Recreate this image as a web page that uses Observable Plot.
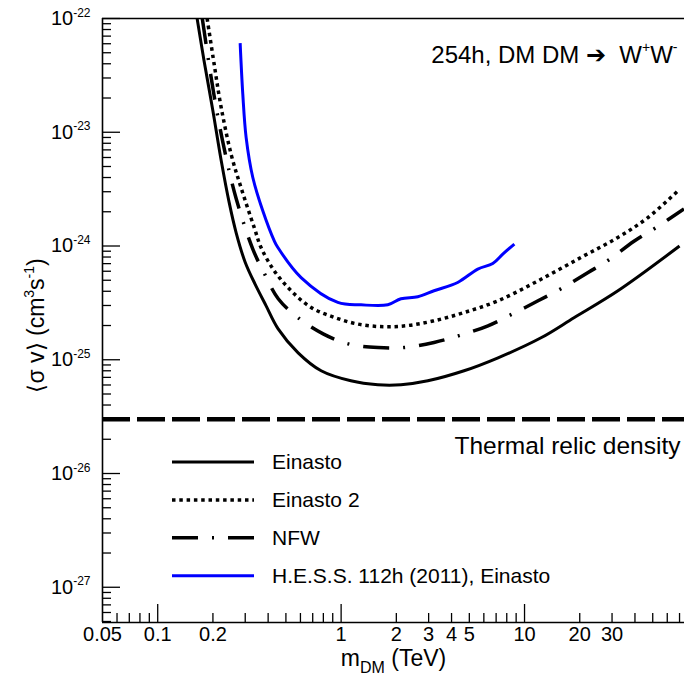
<!DOCTYPE html>
<html>
<head>
<meta charset="utf-8">
<script src="https://cdn.jsdelivr.net/npm/d3@7"></script>
<script src="https://cdn.jsdelivr.net/npm/@observablehq/plot@0.6"></script>
<style>
  html, body { margin: 0; padding: 0; background: #fff; }
  #chart { width: 684px; height: 677px; }
  svg { font-family: "Liberation Sans", Arial, Helvetica, sans-serif; }
</style>
</head>
<body>
<div id="chart"></div>
<script>
// ---- data (m_DM in TeV, <sigma v> in cm^3 s^-1) ----
const einastoX = [0.164, 0.179, 0.200, 0.222, 0.245, 0.268, 0.2998, 0.340, 0.390, 0.4535, 0.583, 0.778, 1.13, 1.585, 2.12, 2.97, 4.68, 7.17, 12.3, 18.6, 32.3, 70];
const einastoY = [1.0e-22, 4.24e-23, 1.54e-23, 5.61e-24, 2.43e-24, 1.30e-24, 7.2e-25, 4.6e-25, 2.98e-25, 1.87e-25, 1.15e-25, 8.0e-26, 6.53e-26, 6.03e-26, 6.03e-26, 6.53e-26, 8.0e-26, 1.04e-25, 1.56e-25, 2.34e-25, 4.04e-25, 1.0e-24];

const einasto2X = [0.186, 0.203, 0.222, 0.252, 0.285, 0.336, 0.366, 0.432, 0.534, 0.686, 0.916, 1.233, 1.715, 2.31, 3.21, 4.68, 7.17, 11.85, 20.3, 32.3, 47.1, 70];
const einasto2Y = [1.0e-22, 3.99e-23, 1.64e-23, 6.3e-24, 3.24e-24, 1.45e-24, 9.7e-25, 6.05e-25, 4.04e-25, 2.88e-25, 2.36e-25, 2.06e-25, 1.95e-25, 2.0e-25, 2.2e-25, 2.6e-25, 3.3e-25, 4.94e-25, 7.93e-25, 1.19e-24, 1.78e-24, 3.15e-24];

const nfwX = [0.175, 0.203, 0.2318, 0.2679, 0.330, 0.379, 0.454, 0.583, 0.798, 1.092, 1.59, 2.2, 3.21, 4.4, 6.32, 8.44, 11.85, 15.8, 22.2, 28.9, 39.5, 52.1, 74];
const nfwY = [1.0e-22, 2.09e-23, 6.87e-24, 2.6e-24, 9.4e-25, 5.85e-25, 3.44e-25, 2.34e-25, 1.69e-25, 1.38e-25, 1.28e-25, 1.28e-25, 1.42e-25, 1.63e-25, 1.99e-25, 2.49e-25, 3.3e-25, 4.21e-25, 5.85e-25, 7.57e-25, 1.1e-24, 1.45e-24, 2.12e-24];

const hessX = [0.2815, 0.291, 0.3035, 0.330, 0.374, 0.432, 0.452, 0.605, 0.959, 1.285, 1.797, 2.12, 2.62, 3.21, 4.32, 5.56, 6.71, 7.61, 8.8];
const hessY = [6.07e-23, 2.16e-23, 8.97e-24, 4.0e-24, 2.04e-24, 1.11e-24, 9.7e-25, 5.28e-25, 3.19e-25, 3.04e-25, 3.04e-25, 3.44e-25, 3.58e-25, 4.04e-25, 4.78e-25, 6.27e-25, 7.02e-25, 8.49e-25, 1.04e-24];

const thermalRelic = 3e-26;
const seriesNames = ["Einasto", "Einasto 2", "NFW", "H.E.S.S. 112h (2011), Einasto"];

// ---- axes ----
const xDomain = [0.05, 74.5];
const yDomain = [4.9e-28, 1e-22];
const xTickLabels = [0.05, 0.1, 0.2, 1, 2, 3, 4, 5, 10, 20, 30];
const xMajorTicks = [0.1, 1, 10];
const xMinorTicks = [0.06, 0.07, 0.08, 0.09, 0.2, 0.3, 0.4, 0.5, 0.6, 0.7, 0.8, 0.9, 2, 3, 4, 5, 6, 7, 8, 9, 20, 30, 40, 50, 60, 70];
const yMajorTicks = [1e-27, 1e-26, 1e-25, 1e-24, 1e-23, 1e-22];
const yMinorTicks = [-28, -27, -26, -25, -24, -23]
  .flatMap(e => [2, 3, 4, 5, 6, 7, 8, 9].map(m => +(m + "e" + e)))
  .filter(v => v >= yDomain[0] && v <= yDomain[1]);

// ---- styles ----
const styles = [
  {stroke: "#000", strokeWidth: 3, strokeDasharray: null},
  {stroke: "#000", strokeWidth: 3.5, strokeDasharray: "3.5,3.8"},
  {stroke: "#000", strokeWidth: 3.5, strokeDasharray: "26,14,2,14"},
  {stroke: "#0000ff", strokeWidth: 3, strokeDasharray: null}
];

const rows = (xs, ys) => xs.map((x, i) => ({x, y: ys[i]}));
const seriesData = [rows(einastoX, einastoY), rows(einasto2X, einasto2Y), rows(nfwX, nfwY), rows(hessX, hessY)];

const lineMarks = seriesData.map((d, i) => Plot.line(d, {
  x: "x", y: "y",
  stroke: styles[i].stroke,
  strokeWidth: styles[i].strokeWidth,
  strokeDasharray: styles[i].strokeDasharray,
  strokeLinecap: "butt",
  curve: "catmull-rom",
  clip: true
}));

const FONT = 20;
const TITLE_FONT = 24;
const THERMAL_FONT = 24.5;
const XLABEL_FONT = 23;
const YLABEL_FONT = 23;

const chart = Plot.plot({
  width: 684,
  height: 677,
  marginLeft: 102,
  marginRight: 0,
  marginTop: 18,
  marginBottom: 55,
  style: {fontSize: FONT + "px", fontFamily: '"Liberation Sans", Arial, sans-serif', color: "#000", background: "#fff", overflow: "visible"},
  x: {type: "log", domain: xDomain},
  y: {type: "log", domain: yDomain},
  marks: [
    Plot.ruleY([thermalRelic], {stroke: "#000", strokeWidth: 4.5, strokeDasharray: "28,7"}),
    ...lineMarks,
    // ticks pointing inward
    Plot.axisX({ticks: xMajorTicks, tickSize: -18, tickFormat: () => "", label: null, strokeWidth: 1.3}),
    Plot.axisX({ticks: xMinorTicks, tickSize: -9, tickFormat: () => "", label: null, strokeWidth: 1.3}),
    Plot.text(xTickLabels, {x: d => d, text: d => String(d), frameAnchor: "bottom", lineAnchor: "top", dy: 4, fontSize: FONT, fill: "#000"}),
    Plot.axisY({ticks: yMajorTicks, tickSize: -18, tickFormat: () => "", label: null, strokeWidth: 1.3}),
    Plot.axisY({ticks: yMinorTicks, tickSize: -9, tickFormat: () => "", label: null, strokeWidth: 1.3}),
    Plot.axisY({ticks: yMajorTicks, tickSize: 0, tickPadding: 12, tickFormat: d => "10|" + Math.round(Math.log10(d)), label: null, fontSize: FONT}),
    // frame: top, left, bottom
    Plot.ruleY([yDomain[1]], {stroke: "#000", strokeWidth: 1.6}),
    Plot.ruleY([yDomain[0]], {stroke: "#000", strokeWidth: 1.6}),
    Plot.ruleX([xDomain[0]], {stroke: "#000", strokeWidth: 1.6}),
    // annotations
    Plot.text([{x: xDomain[1], y: thermalRelic, t: "Thermal relic density"}], {
      x: "x", y: "y", text: "t", textAnchor: "end", dx: -4, dy: 27, fontSize: THERMAL_FONT, fill: "#000"
    }),
    Plot.text(["254h, DM DM \u2794  W|+|W|-"], {
      frameAnchor: "top-right", dx: -7, dy: 27, textAnchor: "end", fontSize: TITLE_FONT, fill: "#000"
    }),
    Plot.text(["m|DM| (TeV)"], {
      frameAnchor: "bottom", dy: 43.5, fontSize: XLABEL_FONT, fill: "#000"
    }),
    Plot.text(["\u27E8\u03C3 v\u27E9 (cm|3|s|-1|)"], {
      frameAnchor: "left", dx: -66, dy: 72, rotate: -90, textAnchor: "start", fontSize: YLABEL_FONT, fill: "#000"
    })
  ]
});

document.getElementById("chart").appendChild(chart);

// ---- rich text (superscripts / subscripts) ----
function rich(node, parts, base) {
  const t = d3.select(node);
  t.text(null);
  let shift = 0;
  parts.forEach(p => {
    const target = p.sup ? -0.42 * base : p.sub ? 0.3 * base : 0;
    const ts = t.append("tspan").text(p.t);
    if (target !== shift) { ts.attr("dy", target - shift); shift = target; }
    if (p.sup || p.sub) ts.attr("font-size", Math.round(base * (p.sub ? 0.7 : 0.6)));
  });
}
const svg = d3.select(chart);
const layouts = {
  title: {base: TITLE_FONT, kinds: ["", "sup", "", "sup"]},
  xlabel: {base: XLABEL_FONT, kinds: ["", "sub", ""]},
  ylabel: {base: YLABEL_FONT, kinds: ["", "sup", "", "sup", ""]},
  ytick: {base: FONT, kinds: ["", "sup"]}
};
svg.selectAll("text").each(function() {
  const s = this.textContent;
  if (!s.includes("|")) return;
  const pieces = s.split("|");
  let L;
  if (s.startsWith("254h")) L = layouts.title;
  else if (s.startsWith("m|")) L = layouts.xlabel;
  else if (s.startsWith("\u27E8")) L = layouts.ylabel;
  else L = layouts.ytick;
  rich(this, pieces.map((t, i) => ({t, sup: L.kinds[i] === "sup", sub: L.kinds[i] === "sub"})), L.base);
});

// ---- legend ----
const legendX1 = 172, legendX2 = 254, legendTextX = 272, legendY0 = 462, legendStep = 37.9;
const lg = svg.append("g").attr("aria-label", "legend");
seriesNames.forEach((name, i) => {
  const y = legendY0 + i * legendStep;
  lg.append("line")
    .attr("x1", legendX1).attr("x2", legendX2).attr("y1", y).attr("y2", y)
    .attr("stroke", styles[i].stroke)
    .attr("stroke-width", styles[i].strokeWidth)
    .attr("stroke-dasharray", styles[i].strokeDasharray);
  lg.append("text")
    .attr("x", legendTextX).attr("y", y).attr("dy", "0.35em")
    .attr("text-anchor", "start")
    .attr("font-size", 21).attr("fill", "#000")
    .text(name);
});
</script>
</body>
</html>
